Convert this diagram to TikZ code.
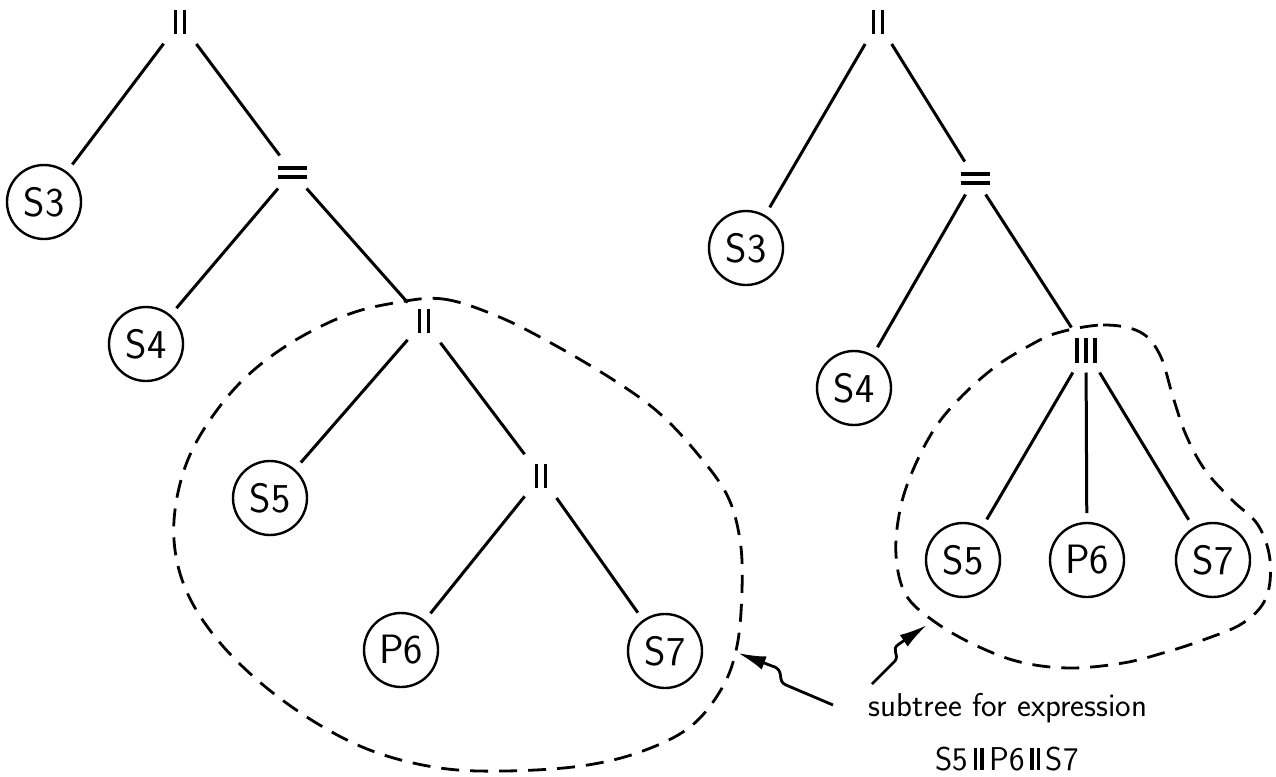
\documentclass[tikz,border=0pt]{standalone}
\usepackage{tikz}
\usetikzlibrary{arrows.meta}

\newcommand{\vbar}[1]{\rule{1.9pt}{#1}}
\newcommand{\parbars}{\vbar{12pt}\hspace{2.6pt}\vbar{12pt}}
\newcommand{\tribars}{\vbar{12.5pt}\hspace{2.5pt}\vbar{12.5pt}\hspace{2.5pt}\vbar{12.5pt}}
\newcommand{\seqbars}{\vbox{\hrule width 14.5pt height 2pt\vskip 2.5pt\hrule width 14.5pt height 2pt}}
\newcommand{\textbars}{\,\vbar{11pt}\hspace{1.3pt}\vbar{11pt}\,}

\begin{document}
\begin{tikzpicture}[x=0.5pt,y=-0.5pt,
  leaf/.style={circle,draw,line width=1.2pt,minimum size=37pt,inner sep=0pt,outer sep=5pt,font=\fontsize{20.5}{21}\selectfont\sffamily},
  op/.style={inner sep=3pt,outer sep=2pt},
  branch/.style={line width=1.5pt},
  hull/.style={line width=1.4pt,dash pattern=on 9pt off 5.5pt},
  note/.style={font=\fontsize{16.5}{18}\selectfont\sffamily},
  pointer/.style={line width=1.4pt,-{Latex[length=14pt,width=7pt]}}]
\useasboundingbox (0,0) rectangle (1276,777);

\node[op] (lroot) at (180,22) {\parbars};
\node[leaf] (ls3) at (44,202) {S3};
\node[op] (lseq) at (292,172) {\seqbars};
\node[leaf] (ls4) at (146,344) {S4};
\node[op] (lpar) at (424,321) {\parbars};
\node[leaf] (ls5) at (270,498) {S5};
\node[op] (lpar2) at (541,476) {\parbars};
\node[leaf] (lp6) at (401,650) {P6};
\node[leaf] (ls7) at (665,651) {S7};

\draw[branch] (lroot) -- (ls3);
\draw[branch] (lroot) -- (lseq);
\draw[branch] (lseq) -- (ls4);
\draw[branch] (lseq) -- (lpar);
\draw[branch] (lpar) -- (ls5);
\draw[branch] (lpar) -- (lpar2);
\draw[branch] (lpar2) -- (lp6);
\draw[branch] (lpar2) -- (ls7);

\node[op] (rroot) at (878,22) {\parbars};
\node[leaf] (rs3) at (746,248) {S3};
\node[op] (rseq) at (975,178) {\seqbars};
\node[leaf] (rs4) at (854,388) {S4};
\node[op] (rpar) at (1086,350) {\tribars};
\node[leaf] (rs5) at (963,560) {S5};
\node[leaf] (rp6) at (1087,560) {P6};
\node[leaf] (rs7) at (1213,560) {S7};

\draw[branch] (rroot) -- (rs3);
\draw[branch] (rroot) -- (rseq);
\draw[branch] (rseq) -- (rs4);
\draw[branch] (rseq) -- (rpar);
\draw[branch] (rpar) -- (rs5);
\draw[branch] (rpar) -- (rp6);
\draw[branch] (rpar) -- (rs7);

\draw[hull] plot[smooth cycle,tension=0.6] coordinates {(394,303) (443,299) (497,316) (551,343)
  (612,379) (658,412) (696,452) (727,495) (740,540) (742,590) (737,646) (722,688) (690,727)
  (640,752) (581,766) (505,771) (440,768) (375,752) (318,724) (262,684) (216,638) (186,590)
  (174,540) (179,488) (198,439) (237,386) (286,346) (344,316)};
\draw[hull] plot[smooth cycle,tension=0.6] coordinates {(1057,333) (1103,325) (1140,332)
  (1160,355) (1173,397) (1186,435) (1205,470) (1232,500) (1258,525) (1270,560) (1266,598)
  (1243,623) (1203,640) (1163,653) (1123,663) (1070,668) (1020,662) (975,645) (935,622)
  (906,595) (896,555) (900,510) (913,470) (935,428) (962,396) (995,367) (1027,347)};

\node[note,anchor=base] (lab1) at (1008,716) {subtree for expression};
\node[note,anchor=base] (lab2) at (1007,770) {S5\textbars P6\textbars S7};

\coordinate (lfrom) at (833,705);
\coordinate (ltip) at (738,653);
\coordinate (rfrom) at (872,684);
\coordinate (rtip) at (927,625);
\draw[pointer] (lfrom) -- (786,685) .. controls (776,681) and (786,670) .. (772,666) -- (ltip);
\draw[pointer] (rfrom) -- (895,661) .. controls (900,654) and (890,650) .. (899,644) -- (rtip);
\end{tikzpicture}
\end{document}
